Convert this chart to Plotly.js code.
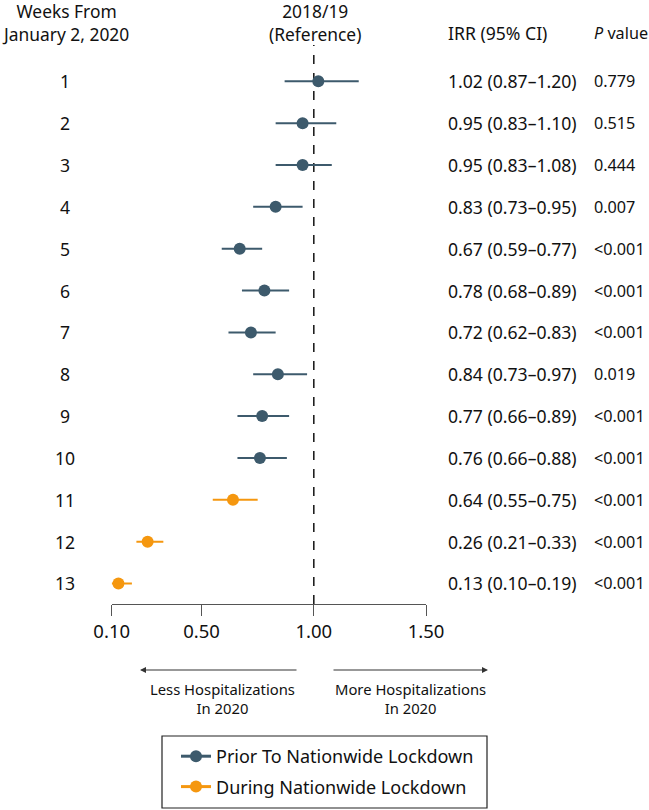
<!DOCTYPE html>
<html>
<head>
<meta charset="utf-8">
<script src="https://cdn.plot.ly/plotly-3.0.1.min.js"></script>
<style>html,body{margin:0;padding:0;background:#fff;}#chart{width:649px;height:810px;}</style>
</head>
<body>
<div id="chart"></div>
<script>
// ---- data ----
const weeks = [1,2,3,4,5,6,7,8,9,10,11,12,13];
const irr   = [1.02,0.95,0.95,0.83,0.67,0.78,0.72,0.84,0.77,0.76,0.64,0.26,0.13];
const ciLow = [0.87,0.83,0.83,0.73,0.59,0.68,0.62,0.73,0.66,0.66,0.55,0.21,0.10];
const ciHigh= [1.20,1.10,1.08,0.95,0.77,0.89,0.83,0.97,0.89,0.88,0.75,0.33,0.19];
const pvals = ['0.779','0.515','0.444','0.007','<0.001','<0.001','<0.001','0.019','<0.001','<0.001','<0.001','<0.001','<0.001'];
const period = ['prior','prior','prior','prior','prior','prior','prior','prior','prior','prior','during','during','during'];
const groupNames = {prior:'Prior To Nationwide Lockdown', during:'During Nationwide Lockdown'};
const tickVals = [0.1,0.5,1.0,1.5];
const tickText = ['0.10','0.50','1.00','1.50'];
const referenceValue = 1.0;

// ---- styling ----
const COLORS = {prior:'#3d5a6c', during:'#f5970f'};
const FONT = '"Noto Sans", "Open Sans", sans-serif';
const W = 649, H = 810;
const px = v => v / W;
const py = v => (H - v) / H;

const traces = [];
['prior','during'].forEach(g => {
  const idx = weeks.map((w,i)=>i).filter(i => period[i] === g);
  traces.push({
    type:'scatter', mode:'markers',
    x: idx.map(i=>irr[i]), y: idx.map(i=>weeks[i]),
    marker:{color:COLORS[g], size:12},
    error_x:{type:'data', symmetric:false,
      array: idx.map(i=>ciHigh[i]-irr[i]),
      arrayminus: idx.map(i=>irr[i]-ciLow[i]),
      color:COLORS[g], thickness:2, width:0},
    showlegend:false, hoverinfo:'skip'
  });
});
['prior','during'].forEach(g => {
  traces.push({
    type:'scatter', mode:'lines+markers', x:[null], y:[null],
    name: groupNames[g], legendgroup:g,
    line:{color:COLORS[g], width:3},
    marker:{color:COLORS[g], size:12},
    showlegend:true
  });
});

const annotations = [];
const baseFont = {family:FONT, size:17.6, color:'#111'};
const pFont = {family:FONT, size:16.2, color:'#111'};
weeks.forEach((w,i) => {
  annotations.push({xref:'paper', yref:'y', x:px(65), y:w, text:String(w), showarrow:false, xanchor:'center', yanchor:'middle', font:baseFont});
  annotations.push({xref:'paper', yref:'y', x:px(446), y:w,
    text: irr[i].toFixed(2)+' ('+ciLow[i].toFixed(2)+'–'+ciHigh[i].toFixed(2)+')',
    showarrow:false, xanchor:'left', yanchor:'middle', font:baseFont});
  annotations.push({xref:'paper', yref:'y', x:px(592), y:w, text:pvals[i].replace('<','&lt;'), showarrow:false, xanchor:'left', yanchor:'middle', font:pFont});
});
// headers
const headFont = {family:FONT, size:17.4, color:'#111'};
annotations.push({xref:'paper', yref:'paper', x:px(65), y:py(23), text:'Weeks From<br>January 2, 2020', showarrow:false, xanchor:'center', yanchor:'middle', font:headFont});
annotations.push({xref:'paper', yref:'paper', x:px(315), y:py(23), text:'2018/19<br>(Reference)', showarrow:false, xanchor:'center', yanchor:'middle', font:headFont});
annotations.push({xref:'paper', yref:'paper', x:px(446), y:py(33), text:'IRR (95% CI)', showarrow:false, xanchor:'left', yanchor:'middle', font:baseFont});
annotations.push({xref:'paper', yref:'paper', x:px(592), y:py(33), text:'<i>P</i> value', showarrow:false, xanchor:'left', yanchor:'middle', font:pFont});
// arrows
annotations.push({xref:'paper', yref:'paper', x:px(140), y:py(670), ax:158, ay:0, text:'', showarrow:true, arrowhead:2, arrowsize:1, arrowwidth:1.2, arrowcolor:'#333'});
annotations.push({xref:'paper', yref:'paper', x:px(488), y:py(670), ax:-156, ay:0, text:'', showarrow:true, arrowhead:2, arrowsize:1, arrowwidth:1.2, arrowcolor:'#333'});
const smallFont = {family:FONT, size:14.8, color:'#111'};
annotations.push({xref:'paper', yref:'paper', x:px(222), y:py(698), text:'Less Hospitalizations<br>In 2020', showarrow:false, xanchor:'center', yanchor:'middle', font:smallFont});
annotations.push({xref:'paper', yref:'paper', x:px(410), y:py(698), text:'More Hospitalizations<br>In 2020', showarrow:false, xanchor:'center', yanchor:'middle', font:smallFont});

const layout = {
  width:W, height:H,
  margin:{l:0,r:0,t:0,b:0},
  paper_bgcolor:'#fff', plot_bgcolor:'#fff',
  font:{family:FONT, size:16, color:'#111'},
  xaxis:{
    domain:[px(111.7), px(426.1)], range:[0.1,1.5],
    tickvals:tickVals, ticktext:tickText,
    ticks:'outside', ticklen:11, tickwidth:1.2, tickcolor:'#555',
    showline:true, linecolor:'#555', linewidth:1.2,
    showgrid:false, zeroline:false, anchor:'y',
    tickfont:{family:FONT, size:18.5, color:'#111'}
  },
  yaxis:{
    domain:[py(604), py(45)], range:[13.49, 0.133],
    visible:false, showgrid:false, zeroline:false
  },
  shapes:[
    {type:'line', xref:'x', yref:'y domain', x0:referenceValue, x1:referenceValue, y0:0, y1:1,
      line:{color:'#111', width:1.5, dash:'dash'}, layer:'below'},
    {type:'rect', xref:'paper', yref:'paper', x0:px(162), x1:px(487), y0:py(808), y1:py(736),
      line:{color:'#222', width:1.2}, fillcolor:'rgba(0,0,0,0)'}
  ],
  annotations:annotations,
  showlegend:true,
  legend:{x:px(176), y:py(738), xanchor:'left', yanchor:'top',
    borderwidth:0, bgcolor:'rgba(0,0,0,0)',
    font:{family:FONT, size:18, color:'#111'}, tracegroupgap:4, itemwidth:30}
};

Plotly.newPlot('chart', traces, layout, {staticPlot:true, displayModeBar:false});
</script>
</body>
</html>
